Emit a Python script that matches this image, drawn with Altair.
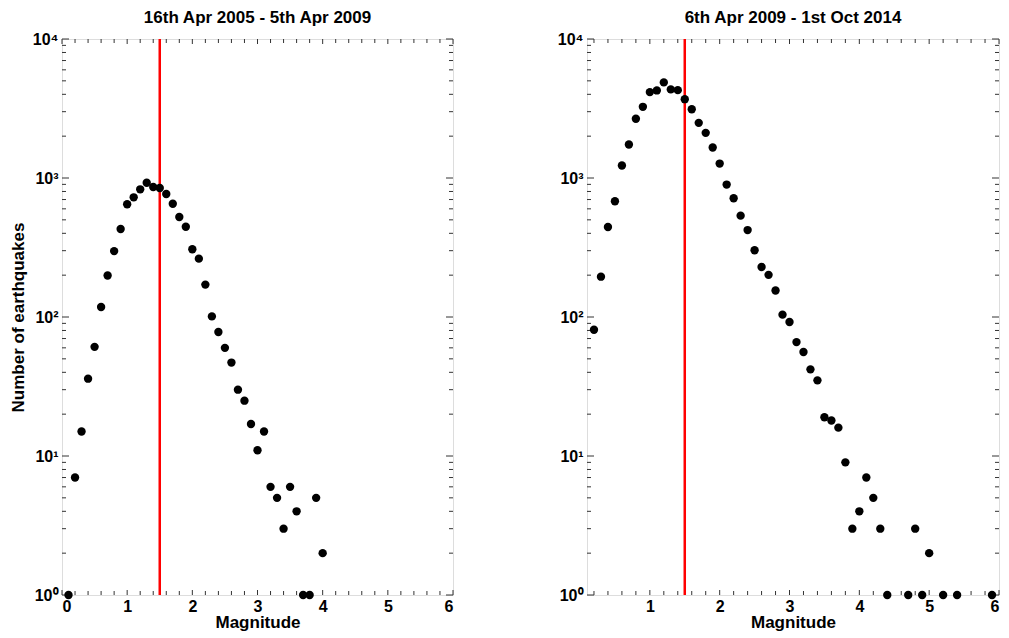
import altair as alt
import pandas as pd

# ---- data ----
mag_a = [0.1, 0.2, 0.3, 0.4, 0.5, 0.6, 0.7, 0.8, 0.9, 1.0,
         1.1, 1.2, 1.3, 1.4, 1.5, 1.6, 1.7, 1.8, 1.9, 2.0,
         2.1, 2.2, 2.3, 2.4, 2.5, 2.6, 2.7, 2.8, 2.9, 3.0,
         3.1, 3.2, 3.3, 3.4, 3.5, 3.6, 3.7, 3.8, 3.9, 4.0]
cnt_a = [1, 7, 15, 36, 61, 118, 199, 298, 430, 647,
         726, 829, 925, 861, 847, 767, 653, 524, 446, 307,
         263, 171, 101, 78, 60, 47, 30, 25, 17, 11,
         15, 6, 5, 3, 6, 4, 1, 1, 5, 2]

mag_b = [0.2, 0.3, 0.4, 0.5, 0.6, 0.7, 0.8, 0.9, 1.0, 1.1,
         1.2, 1.3, 1.4, 1.5, 1.6, 1.7, 1.8, 1.9, 2.0, 2.1,
         2.2, 2.3, 2.4, 2.5, 2.6, 2.7, 2.8, 2.9, 3.0, 3.1,
         3.2, 3.3, 3.4, 3.5, 3.6, 3.7, 3.8, 3.9, 4.0, 4.1,
         4.2, 4.3, 4.4, 4.7, 4.8, 4.9, 5.0, 5.2, 5.4, 5.9]
cnt_b = [81, 195, 444, 680, 1230, 1742, 2667, 3252, 4150, 4266,
         4874, 4338, 4287, 3690, 3126, 2493, 2112, 1657, 1270, 897,
         715, 536, 422, 302, 229, 201, 155, 104, 92, 66,
         56, 42, 35, 19, 18, 16, 9, 3, 4, 7,
         5, 3, 1, 1, 3, 1, 2, 1, 1, 1]

titles = ["16th Apr 2005 - 5th Apr 2009", "6th Apr 2009 - 1st Oct 2014"]
x_domains = [[0, 6], [0.1, 6]]
completeness = 1.5

x_major = [0, 1, 2, 3, 4, 5, 6]
x_minor = [0.2, 0.4, 0.6, 0.8, 1.2, 1.4, 1.6, 1.8, 2.2, 2.4, 2.6, 2.8,
           3.2, 3.4, 3.6, 3.8, 4.2, 4.4, 4.6, 4.8, 5.2, 5.4, 5.6, 5.8]
y_major = [1, 10, 100, 1000, 10000]
y_minor = [m * d for d in [1, 10, 100, 1000] for m in [2, 3, 4, 5, 6, 7, 8, 9]]

FONT = "Liberation Sans"
H = 556
widths = [391, 412]
sup_expr = "'10' + ['\u2070','\u00b9','\u00b2','\u00b3','\u2074'][round(log(datum.value)/LN10)]"


def panel(mags, cnts, title, xdom, W, ytitle):
    xs = alt.Scale(domain=xdom, nice=False, zero=False)
    ys = alt.Scale(type="log", domain=[1, 10000], nice=False)
    xmaj = [v for v in x_major if xdom[0] <= v <= xdom[1]]
    xmin = [v for v in x_minor if xdom[0] <= v <= xdom[1]]

    df = pd.DataFrame({"mag": mags, "n": cnts})
    pts = alt.Chart(df).mark_circle(size=70, color="black", opacity=1).encode(
        x=alt.X("mag:Q", scale=xs,
                axis=alt.Axis(values=xmaj, format="d", ticks=False, tickSize=0,
                              domain=False, grid=False,
                              labelFont=FONT, labelFontSize=16, labelFontWeight="bold",
                              labelColor="black", labelPadding=3,
                              title="Magnitude", titleFont=FONT, titleFontSize=17,
                              titleFontWeight="bold", titleColor="black", titlePadding=0)),
        y=alt.Y("n:Q", scale=ys,
                axis=alt.Axis(values=y_major, labelExpr=sup_expr, ticks=False, tickSize=0,
                              domain=False, grid=False, labelFont=FONT, labelFontSize=16,
                              labelFontWeight="bold", labelColor="black", labelPadding=4,
                              title="Number of earthquakes" if ytitle else None,
                              titleFont=FONT, titleFontSize=17, titleFontWeight="bold",
                              titleColor="black", titlePadding=5)),
    )

    red = alt.Chart(pd.DataFrame({"m": [completeness]})).mark_rule(
        color="#ff0000", strokeWidth=2.5).encode(x=alt.X("m:Q", scale=xs))

    def xticks(vals, L):
        d = pd.DataFrame({"v": vals})
        b = alt.Chart(d).mark_rule(color="#333333", strokeWidth=1)
        return [
            b.encode(x=alt.X("v:Q", scale=xs), y=alt.value(H), y2=alt.value(H - L)),
            b.encode(x=alt.X("v:Q", scale=xs), y=alt.value(0), y2=alt.value(L)),
        ]

    def yticks(vals, L):
        d = pd.DataFrame({"v": vals})
        b = alt.Chart(d).mark_rule(color="#333333", strokeWidth=1)
        return [
            b.encode(y=alt.Y("v:Q", scale=ys), x=alt.value(0), x2=alt.value(L)),
            b.encode(y=alt.Y("v:Q", scale=ys), x=alt.value(W), x2=alt.value(W - L)),
        ]

    ticks = xticks(xmaj, 5) + xticks(xmin, 4) + yticks(y_major, 7) + yticks(y_minor, 4)
    return alt.layer(*ticks, red, pts).properties(
        width=W, height=H,
        title=alt.TitleParams(title, font=FONT, fontSize=17, fontWeight="bold",
                              color="black", anchor="middle", frame="group", offset=4),
    )


left = panel(mag_a, cnt_a, titles[0], x_domains[0], widths[0], True)
right = panel(mag_b, cnt_b, titles[1], x_domains[1], widths[1], False)

chart = alt.hconcat(left, right, spacing=102).properties(padding=0).configure_view(
    stroke="#333333", strokeWidth=1
).configure(background="white")

chart.save("out.html", embed_options={"renderer": "svg", "actions": False})
